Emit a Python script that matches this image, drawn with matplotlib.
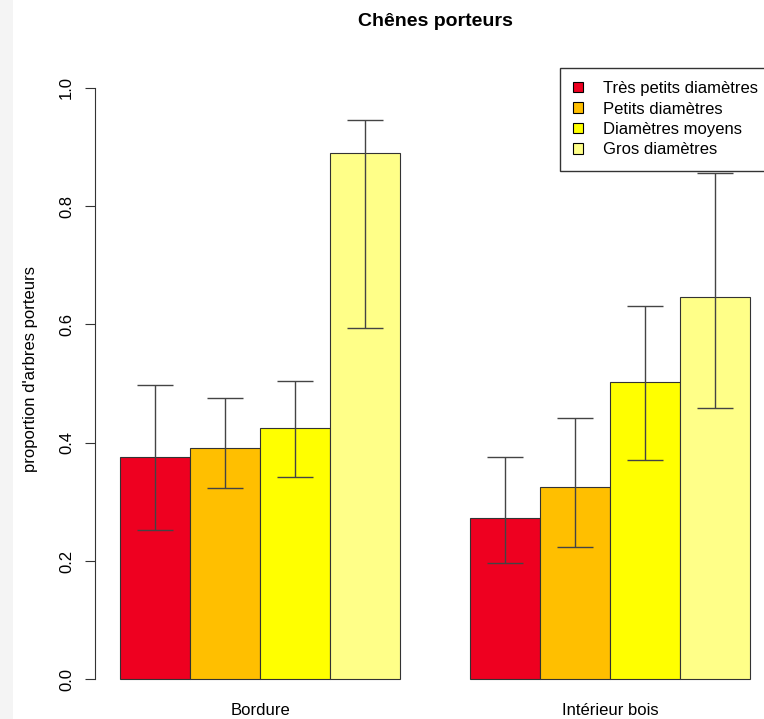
import numpy as np
import matplotlib.pyplot as plt
from matplotlib.patches import Patch, Rectangle

plt.rcParams['font.family'] = ['Liberation Sans', 'DejaVu Sans']

# Data
groups = ["Bordure", "Intérieur bois"]
classes = ["Très petits diamètres", "Petits diamètres", "Diamètres moyens", "Gros diamètres"]
colors = ["#EE0020", "#FFBF00", "#FFFF00", "#FFFF88"]

bordure = [0.375, 0.391, 0.425, 0.890]
bordure_low = [0.252, 0.323, 0.342, 0.594]
bordure_high = [0.497, 0.475, 0.504, 0.946]

interieur = [0.272, 0.325, 0.503, 0.646]
interieur_low = [0.196, 0.223, 0.371, 0.459]
interieur_high = [0.376, 0.442, 0.631, 0.856]

fig = plt.figure(figsize=(7.64, 7.19), dpi=100)
fig.patches.append(Rectangle((0, 0), 13 / 764, 1, transform=fig.transFigure,
                             facecolor="#f4f4f4", edgecolor="none", zorder=0))
ax = fig.add_axes([95 / 764, 1 - 703 / 719, 680 / 764, 639 / 719])

# R barplot(beside=TRUE) layout: bar width 1, one bar gap between groups
heights = np.array([bordure, interieur])
lows = np.array([bordure_low, interieur_low])
highs = np.array([bordure_high, interieur_high])
centers = []
for g in range(len(groups)):
    left0 = 1 + g * (len(classes) + 1)
    xs = left0 + np.arange(len(classes)) + 0.5
    ax.bar(xs, heights[g], width=1.0, color=colors, edgecolor="#333333", linewidth=0.8, zorder=2)
    ax.errorbar(xs, heights[g], yerr=[heights[g] - lows[g], highs[g] - heights[g]],
                fmt="none", ecolor="#444444", elinewidth=1.0, capsize=13, capthick=1.0, zorder=3)
    centers.append(xs.mean())

ax.set_xlim(0.64, 10.36)
ax.set_ylim(-0.04, 1.04)

for s in ["top", "right", "bottom"]:
    ax.spines[s].set_visible(False)
ax.spines["left"].set_bounds(0, 1)
ax.spines["left"].set_color("#333333")

ax.set_yticks(np.arange(0, 1.01, 0.2))
ax.set_yticklabels(["%.1f" % v for v in np.arange(0, 1.01, 0.2)], rotation=90, va="center")
ax.tick_params(axis="y", length=7, pad=8, labelsize=12, color="#333333")
ax.set_xticks(centers)
ax.set_xticklabels(groups)
ax.tick_params(axis="x", length=0, pad=0, labelsize=12)

ax.set_ylabel("proportion d'arbres porteurs", fontsize=12)
ax.yaxis.set_label_coords(-0.084, 0.522)
ax.set_title("Chênes porteurs", fontsize=14, fontweight="bold", pad=27)

handles = [Patch(facecolor=c, edgecolor="black", linewidth=0.8) for c in colors]
ax.legend(handles, classes, loc="upper right", fontsize=12, frameon=True, fancybox=False,
          edgecolor="#333333", framealpha=1, borderaxespad=0.22, handlelength=0.6,
          handleheight=0.6, labelspacing=0.33, handletextpad=1.2, borderpad=0.8)

fig.savefig("out.png", dpi=100)
